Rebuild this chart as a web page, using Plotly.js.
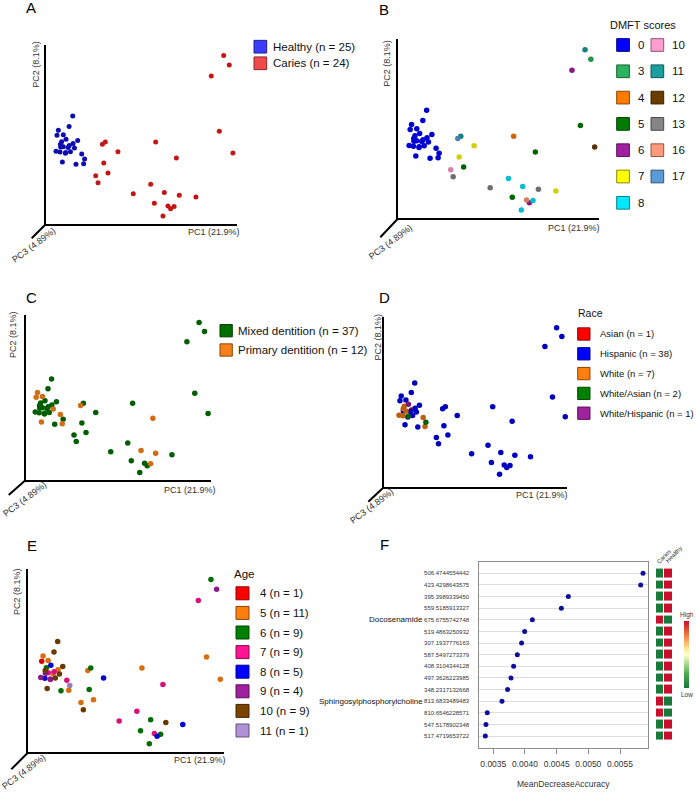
<!DOCTYPE html>
<html><head><meta charset="utf-8">
<script src="https://cdn.plot.ly/plotly-3.0.1.min.js"></script>
<style>html,body{margin:0;padding:0;background:#fff;}#chart{width:696px;height:797px;}</style>
</head><body><div id="chart"></div>
<script>
// ---------- DATA (PCoA scores, relative units) ----------
const pc1 = [0.141,0.122,0.066,0.059,0.092,0.106,0.083,0.167,0.143,0.077,0.123,0.092,0.078,0.150,0.117,0.054,0.075,0.104,0.129,0.188,0.203,0.087,0.158,0.198,0.103,
             0.929,0.958,0.864,0.906,0.977,0.574,0.682,0.311,0.296,0.377,0.303,0.325,0.261,0.273,0.457,0.548,0.619,0.697,0.784,0.567,0.638,0.652,0.670,0.612];
const pc2 = [0.604,0.546,0.524,0.496,0.500,0.474,0.461,0.468,0.450,0.446,0.439,0.433,0.431,0.426,0.429,0.407,0.403,0.400,0.405,0.392,0.364,0.348,0.335,0.338,0.396,
             0.942,0.888,0.827,0.519,0.398,0.459,0.370,0.459,0.446,0.405,0.342,0.286,0.271,0.232,0.171,0.223,0.178,0.162,0.152,0.117,0.102,0.087,0.099,0.046];
const status = ['Healthy','Healthy','Healthy','Healthy','Healthy','Healthy','Healthy','Healthy','Healthy','Healthy','Healthy','Healthy','Healthy','Healthy','Healthy','Healthy','Healthy','Healthy','Healthy','Healthy','Healthy','Healthy','Healthy','Healthy','Healthy',
                'Caries','Caries','Caries','Caries','Caries','Caries','Caries','Caries','Caries','Caries','Caries','Caries','Caries','Caries','Caries','Caries','Caries','Caries','Caries','Caries','Caries','Caries','Caries','Caries'];
const dmft = [0,0,0,0,0,0,0,0,0,0,0,0,0,0,0,0,0,0,0,0,0,0,0,0,0,
              11,3,6,5,12,4,5,11,17,7,7,5,10,13,13,8,8,13,7,5,16,6,8,8];
const dentition = ['Mixed','Mixed','Primary','Primary','Primary','Mixed','Mixed','Mixed','Mixed','Mixed','Mixed','Mixed','Mixed','Primary','Mixed','Mixed','Mixed','Mixed','Mixed','Primary','Mixed','Primary','Mixed','Primary','Mixed',
                   'Mixed','Mixed','Mixed','Mixed','Mixed','Mixed','Primary','Mixed','Primary','Mixed','Mixed','Mixed','Mixed','Mixed','Mixed','Mixed','Primary','Primary','Mixed','Mixed','Mixed','Mixed','Primary','Mixed'];
const race = ['Hispanic','Hispanic','Hispanic','Hispanic','Hispanic','White/Hispanic','White','Hispanic','Hispanic','White','Asian','White','Hispanic','Hispanic','Hispanic','White','White','White/Asian','Hispanic','White','White/Asian','Hispanic','Hispanic','White','Hispanic',
              'Hispanic','Hispanic','Hispanic','Hispanic','Hispanic','Hispanic','Hispanic','Hispanic','Hispanic','Hispanic','Hispanic','Hispanic','Hispanic','Hispanic','Hispanic','Hispanic','Hispanic','Hispanic','Hispanic','Hispanic','Hispanic','Hispanic','Hispanic','Hispanic'];
const age = [10,10,5,4,5,8,6,10,5,10,7,7,9,10,5,9,8,9,10,7,11,10,6,5,7,
             6,9,7,5,5,5,7,6,5,8,6,5,5,10,7,7,6,10,8,6,7,8,6,6];

const statusCats = ['Healthy','Caries'];
const dmftCats = [0,3,4,5,6,7,8,10,11,12,13,16,17];
const dentCats = ['Mixed','Primary'];
const raceCats = ['Asian','Hispanic','White','White/Asian','White/Hispanic'];
const ageCats = [4,5,6,7,8,9,10,11];

// Panel F: random-forest importance
const mz = ['506.4744554442','423.4298643575','395.3989339450','559.5185913327','675.6755742748','519.4863250932','307.1937776163','587.5497273379','408.3104344128','497.3626223985','348.2317132668','813.6833489483','810.6546228571','547.5178902348','517.4719653722'];
const compoundNames = ['','','','','Docosenamide','','','','','','','Sphingosylphosphorylcholine','','',''];
const meanDecreaseAccuracy = [0.005863,0.005826,0.004684,0.004574,0.004116,0.003995,0.003947,0.003879,0.003821,0.003779,0.003726,0.003637,0.003405,0.003384,0.003374];
const cariesLevel  = [0,0,0,0,1,0,0,0,0,0,0,1,1,0,0];
const healthyLevel = [1,1,1,1,0,1,1,1,1,1,1,0,0,1,1];
const heatCols = ['Caries','Healthy'];
const mdaTicks = [0.0035,0.0040,0.0045,0.0050,0.0055];

// ---------- STYLE ----------
const FONT = 'Liberation Sans, Arial, Helvetica, sans-serif';
const W = 696, H = 797;
const px = v => v / W, py = v => 1 - v / H;

const statusColors = ['#3c3cff','#f24a4a'];
const statusDots = ['#0c0cb0','#c41616'];
const dmftColors = ['#0000ff','#2db35d','#ff7b00','#007a00','#a1209f','#ffff00','#00e8ff','#ff9ecf','#1a9e9e','#6b3c00','#858585','#ff9a7a','#5b9bd5'];
const dentColors = ['#006f00','#f7801a'];
const raceColors = ['#ff0000','#0000ff','#ff7f0e','#008000','#a0219e'];
const ageColors = ['#ff0000','#ff7f0e','#008000','#ff1493','#0000ff','#a0219e','#7a4300','#b292d6'];

function shade(hex, f) {
  const n = parseInt(hex.slice(1), 16);
  const r = Math.round(((n >> 16) & 255) * f), g = Math.round(((n >> 8) & 255) * f), b = Math.round((n & 255) * f);
  return 'rgb(' + r + ',' + g + ',' + b + ')';
}

const frames = [
  {id:'',  x0:45.7,  x1:237.3, yt:45,    yb:224.3, xr:[0,1],          yr:[0,1],          d:[14,14], letter:'A', L:[31.3,8],    pc2:[36,64.7],   pc1:[214,232],   pc3:[34,245]},
  {id:'2', x0:398.3, x1:599.3, yt:39.3,  yb:218.3, xr:[0,1],          yr:[0,1],          d:[18,19], letter:'B', L:[384,10],    pc2:[386.7,63],  pc1:[574,228.3], pc3:[390.7,242.3]},
  {id:'3', x0:25.7,  x1:210.7, yt:315,   yb:480,   xr:[0.003,0.991],  yr:[0.002,0.986],  d:[17,15], letter:'C', L:[31.3,297],  pc2:[13,335],    pc1:[189.5,490], pc3:[25,499]},
  {id:'4', x0:384.3, x1:566.7, yt:316.7, yb:486.7, xr:[-0.028,0.985], yr:[-0.031,1.01],  d:[16,15], letter:'D', L:[384.7,297], pc2:[377,337.5], pc1:[542,495],   pc3:[372,506]},
  {id:'5', x0:28.3,  x1:224,   yt:569.3, yb:752.3, xr:[-0.01,0.996],  yr:[0,0.997],      d:[17,17], letter:'E', L:[31.7,545.3], pc2:[17,592],   pc1:[200,760],   pc3:[23.5,772]}
];

const traces = [], shapes = [], annotations = [];
const layout = {
  width: W, height: H, margin: {l:0, r:0, t:0, b:0},
  paper_bgcolor: '#fff', plot_bgcolor: 'rgba(0,0,0,0)',
  font: {family: FONT, color: '#111'}, showlegend: false,
  shapes, annotations
};

function ann(text, x, y, size, opts) {
  annotations.push(Object.assign({text, x: px(x), y: py(y), xref:'paper', yref:'paper', showarrow:false,
    xanchor:'center', yanchor:'middle', borderpad:0, font:{family:FONT, size, color:'#111'}}, opts || {}));
}

// PCoA frames
frames.forEach(f => {
  layout['xaxis' + f.id] = {domain:[px(f.x0), px(f.x1)], range:f.xr, showline:true, linecolor:'#000', linewidth:2,
    showgrid:false, zeroline:false, showticklabels:false, ticks:'', anchor:'y' + f.id, fixedrange:true};
  layout['yaxis' + f.id] = {domain:[py(f.yb), py(f.yt)], range:f.yr, showline:true, linecolor:'#000', linewidth:2,
    showgrid:false, zeroline:false, showticklabels:false, ticks:'', anchor:'x' + f.id, fixedrange:true};
  shapes.push({type:'line', xref:'paper', yref:'paper', x0:px(f.x0), y0:py(f.yb), x1:px(f.x0 - f.d[0]), y1:py(f.yb + f.d[1]),
    line:{color:'#000', width:2}});
  ann(f.letter, f.L[0], f.L[1], 15, {font:{family:FONT, size:15, color:'#000'}});
  ann('PC2 (8.1%)', f.pc2[0], f.pc2[1], 9, {textangle:-90, font:{family:FONT, size:9, color:'#333'}});
  ann('PC1 (21.9%)', f.pc1[0], f.pc1[1], 9, {font:{family:FONT, size:9, color:'#333'}});
  ann('PC3 (4.89%)', f.pc3[0], f.pc3[1], 9, {textangle:-37, font:{family:FONT, size:9, color:'#333'}});
});

function addGroups(axisId, values, cats, dotColors, size) {
  cats.forEach((c, i) => {
    const idx = [];
    values.forEach((v, j) => { if (v === c) idx.push(j); });
    traces.push({type:'scatter', mode:'markers', x: idx.map(j => pc1[j]), y: idx.map(j => pc2[j]),
      xaxis:'x' + axisId, yaxis:'y' + axisId, cliponaxis:false, hoverinfo:'skip',
      marker:{color: dotColors[i], size, line:{width:0}}});
  });
}
function countOf(values, c) { return values.filter(v => v === c).length; }

function legend(labels, colors, sqLeft, yTop, dy, sq, textX, fsize, perCol, colDx) {
  labels.forEach((lab, i) => {
    const col = Math.floor(i / perCol), row = i % perCol;
    const cy = yTop + row * dy, l = sqLeft + col * colDx;
    shapes.push({type:'rect', xref:'paper', yref:'paper', x0:px(l), x1:px(l + sq), y0:py(cy - sq / 2), y1:py(cy + sq / 2),
      fillcolor: colors[i], line:{color: shade(colors[i], 0.55), width:1}});
    ann(lab, textX + col * colDx, cy, fsize, {xanchor:'left', font:{family:FONT, size:fsize, color:'#111'}});
  });
}

// A
addGroups('', status, statusCats, statusDots, 5);
legend(statusCats.map(c => c + ' (n = ' + countOf(status, c) + ')'), statusColors, 254, 46.7, 16.6, 12.7, 272, 11.5, 10, 0);
// B
addGroups('2', dmft, dmftCats, dmftColors.map(c => shade(c, 0.82)), 5.5);
ann('DMFT scores', 643, 25, 11);
legend(dmftCats.map(String), dmftColors, 616.7, 45, 26.3, 12.7, 636.7, 11.5, 7, 34.3);
// C
addGroups('3', dentition, dentCats, dentColors.map(c => shade(c, 0.85)), 5.5);
legend(dentCats.map(c => c + ' dentition (n = ' + countOf(dentition, c) + ')'), dentColors, 220, 330.7, 19.3, 12.3, 237.3, 11.5, 10, 0);
// D
addGroups('4', race, raceCats, raceColors.map(c => shade(c, 0.75)), 5.5);
ann('Race', 577, 313.3, 10.5, {xanchor:'left'});
legend(raceCats.map(c => c + ' (n = ' + countOf(race, c) + ')'), raceColors, 577.7, 334, 19.8, 12.3, 598.5, 9.5, 10, 0);
// E
addGroups('5', age, ageCats, ageColors.map(c => shade(c, 0.85)), 5.5);
ann('Age', 233.3, 574, 11.5, {xanchor:'left'});
legend(ageCats.map(c => c + ' (n = ' + countOf(age, c) + ')'), ageColors, 236, 593.3, 19.6, 13, 259.3, 11.5, 10, 0);

// F : dot plot
const rows = mz.map((_, i) => i + 1);
traces.push({type:'scatter', mode:'markers', x: meanDecreaseAccuracy, y: rows, xaxis:'x6', yaxis:'y6', hoverinfo:'skip',
  cliponaxis:false, marker:{color:'#0f0f9a', size:5}});
layout.xaxis6 = {domain:[px(479.3), px(647.7)], range:[0.003279, 0.005937], showline:true, mirror:true, linecolor:'#8c8c8c', linewidth:1,
  showgrid:false, zeroline:false, ticks:'outside', ticklen:5, tickcolor:'#8c8c8c', tickvals: mdaTicks, ticktext: mdaTicks.map(v => v.toFixed(4)),
  tickfont:{family:FONT, size:8.5, color:'#333'}, anchor:'y6', ticklabelstandoff:3, fixedrange:true};
layout.yaxis6 = {domain:[py(747.7), py(561.7)], range:[16, 0], showline:true, mirror:true, linecolor:'#8c8c8c', linewidth:1,
  showgrid:true, gridcolor:'#dedede', gridwidth:1, zeroline:false, ticks:'', tickvals: rows, ticktext: mz,
  tickfont:{family:FONT, size:6, color:'#333'}, anchor:'x6', ticklabelstandoff:8, fixedrange:true};
compoundNames.forEach((nm, i) => {
  if (nm) ann(nm, 423.5, 561.7 + (i + 1) * 11.625, 8, {xanchor:'right', font:{family:FONT, size:8, color:'#111'}});
});
ann('MeanDecreaseAccuracy', 563.5, 784, 8.5, {font:{family:FONT, size:8.5, color:'#333'}});
ann('F', 384.5, 544, 15, {font:{family:FONT, size:15, color:'#000'}});

// F : heatmap
traces.push({type:'heatmap', x: heatCols, y: rows, z: rows.map((_, i) => [cariesLevel[i], healthyLevel[i]]),
  xaxis:'x7', yaxis:'y7', zmin:0, zmax:1, xgap:1, ygap:3, hoverinfo:'skip',
  colorscale:[[0,'#17793a'],[0.2,'#46a84c'],[0.4,'#c6e5a0'],[0.5,'#ffffcc'],[0.6,'#fde08a'],[0.8,'#f0763c'],[1,'#c8102e']],
  showscale:true,
  colorbar:{x: px(684), xanchor:'left', y: py(654.5), yanchor:'middle', len:67, lenmode:'pixels', thickness:5,
    outlinewidth:0, showticklabels:false, ticks:'', xpad:0, ypad:0}});
layout.xaxis7 = {domain:[px(656), px(672.7)], type:'category', showticklabels:false, showgrid:false, zeroline:false, showline:false, ticks:'', anchor:'y7', fixedrange:true};
layout.yaxis7 = {domain:[py(747.7), py(561.7)], range:[16, 0], showticklabels:false, showgrid:false, zeroline:false, showline:false, ticks:'', anchor:'x7', fixedrange:true};
ann(heatCols[0], 663.3, 556.5, 6, {textangle:-45, font:{family:FONT, size:6, color:'#333'}});
ann(heatCols[1], 673.5, 555, 6, {textangle:-45, font:{family:FONT, size:6, color:'#333'}});
ann('High', 686.7, 615, 6.5, {font:{family:FONT, size:6.5, color:'#333'}});
ann('Low', 686.7, 694, 6.5, {font:{family:FONT, size:6.5, color:'#333'}});

Plotly.newPlot('chart', traces, layout, {staticPlot:true, displayModeBar:false});
</script>
</body></html>
